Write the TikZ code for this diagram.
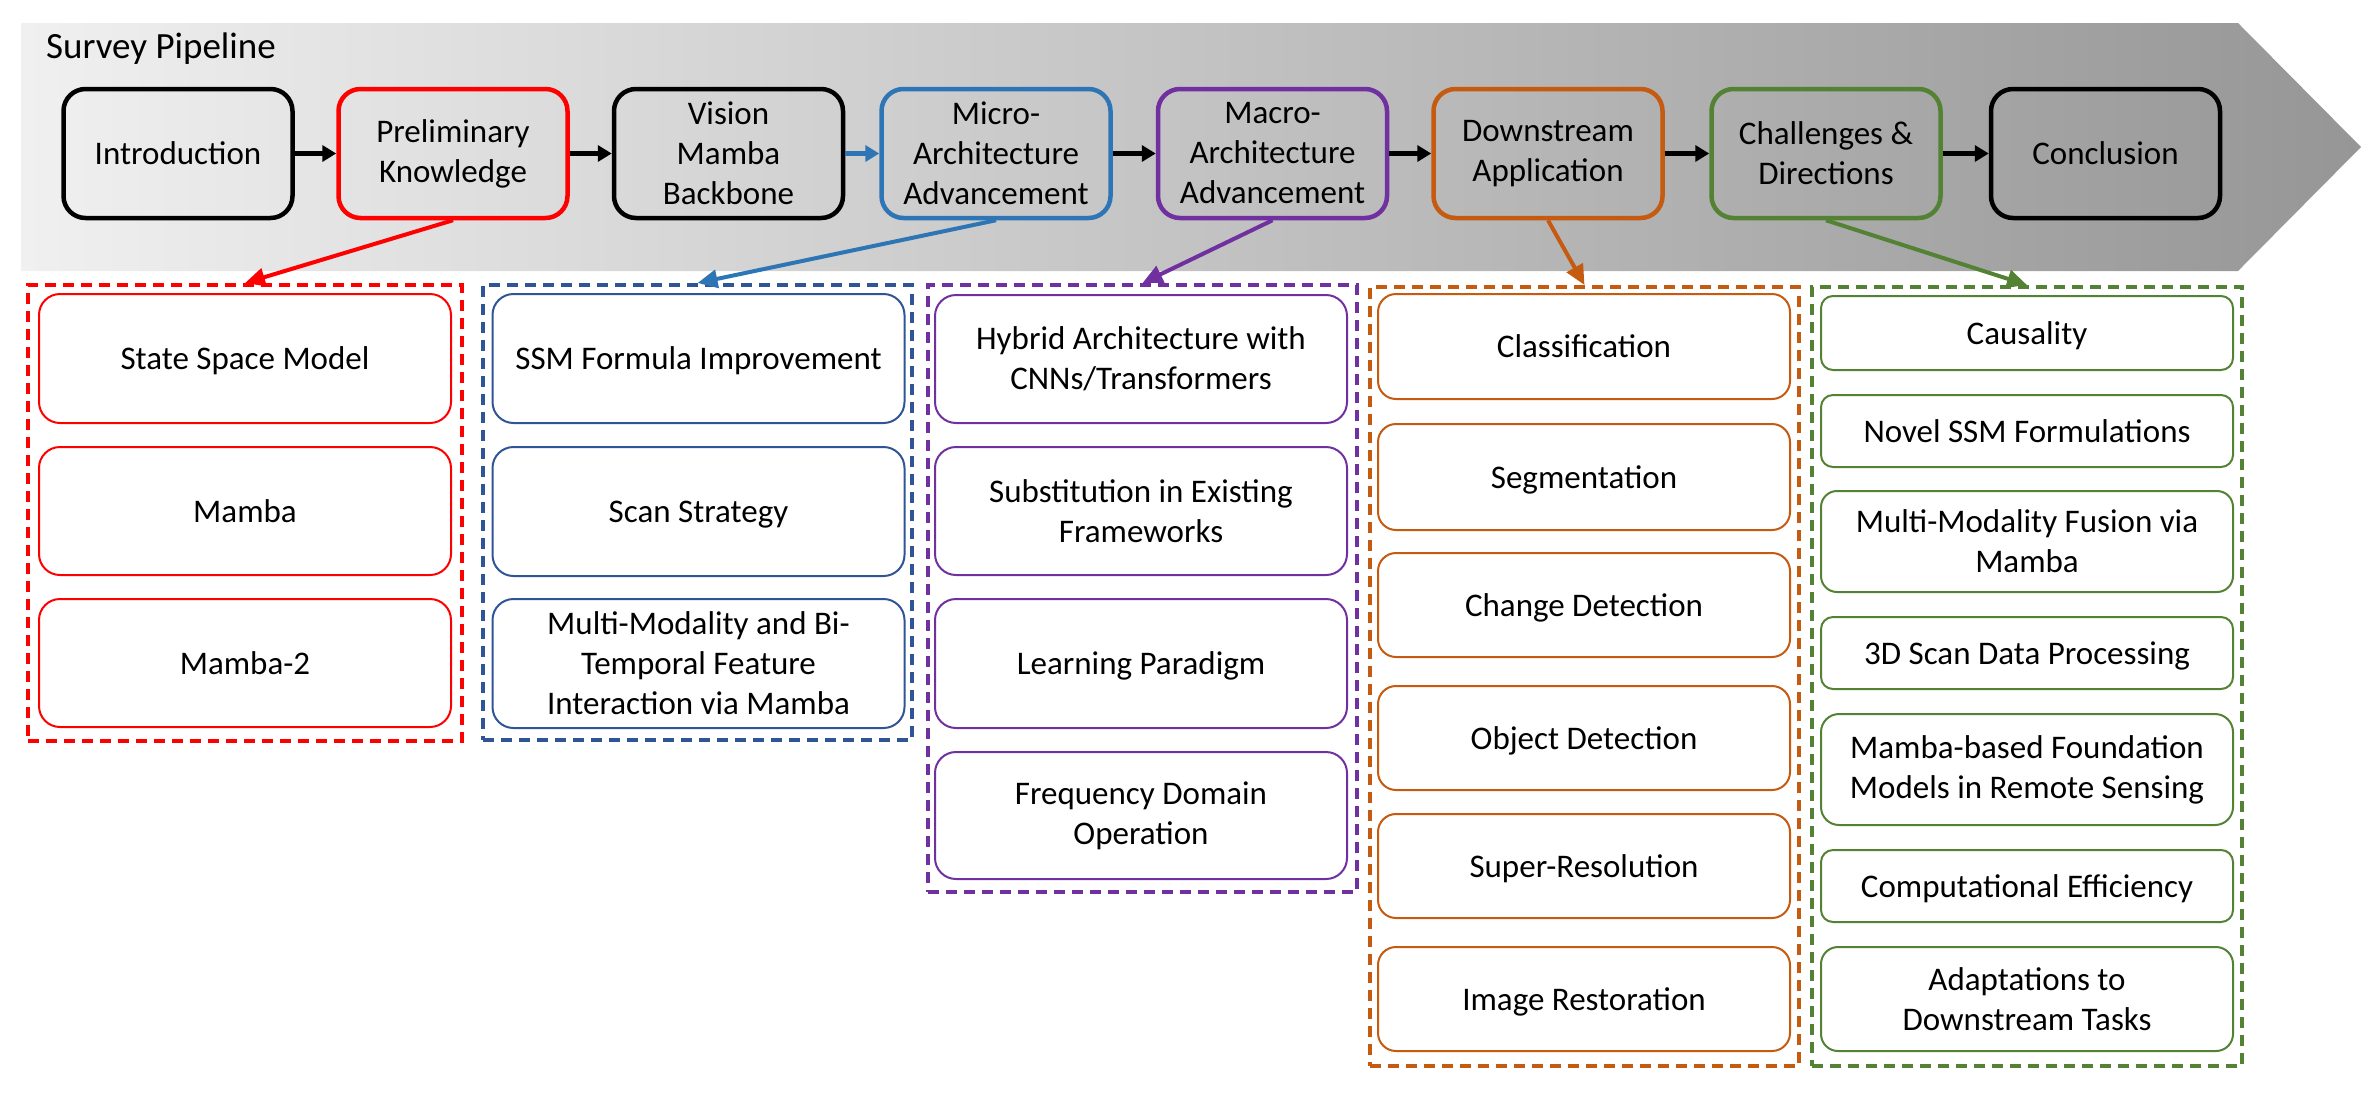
\documentclass[tikz,border=0pt]{standalone}
\usepackage{fontspec}
\setmainfont{Carlito}
\usepackage{tikz}
\usetikzlibrary{arrows.meta, shapes, positioning, backgrounds, fit, calc}
\definecolor{PipeRed}{RGB}{255,0,0}
\definecolor{PipeBlue}{RGB}{46,117,182}
\definecolor{PipeNavy}{RGB}{47,85,151}
\definecolor{PipePurple}{RGB}{112,48,160}
\definecolor{PipeOrange}{RGB}{197,90,17}
\definecolor{PipeGreen}{RGB}{84,130,53}
\definecolor{PipeLight}{RGB}{240,240,240}
\definecolor{PipeDark}{RGB}{150,150,150}

\tikzset{
  stage/.style={shape=rectangle, draw=black, rounded corners=22pt, line width=4.5pt,
                minimum width=229pt, minimum height=129pt, align=center, inner sep=0pt},
  topic/.style={shape=rectangle, draw=#1, rounded corners=21pt, line width=2pt,
                minimum width=412pt, align=center, inner sep=0pt},
  single/.style={text height=22pt, text depth=0pt},
  group/.style={shape=rectangle, draw=#1, line width=4pt, dash pattern=on 11pt off 7pt, inner sep=0pt},
  flow/.style={line width=5pt, -{Triangle[length=14pt, width=16pt]}},
  branch/.style={line width=4pt, -{Triangle[length=20pt, width=18pt]}},
}

\begin{document}
\begin{tikzpicture}[x=1pt, y=-1pt, font=\fontsize{33}{40}\selectfont]
    \useasboundingbox (0,0) rectangle (2379,1104);

    % pipeline band
    \shade[left color=PipeLight, right color=PipeDark]
        (21,23) -- (2238,23) -- (2361,147) -- (2238,271) -- (21,271) -- cycle;
    \node[anchor=base west, inner sep=0pt, font=\fontsize{37}{44}\selectfont] (title) at (46,58) {Survey Pipeline};

    % stages
    \node[stage, single]          (intro)  at ( 178.0,153.5) {Introduction};
    \node[stage, draw=PipeRed]    (prelim) at ( 453.0,153.5) {Preliminary\\Knowledge};
    \node[stage]                  (vision) at ( 728.5,153.5) {Vision\\Mamba\\Backbone};
    \node[stage, draw=PipeBlue]   (micro)  at ( 996.0,153.5) {Micro-\\Architecture\\Advancement};
    \node[stage, draw=PipePurple] (macro)  at (1272.5,153.5) {Macro-\\Architecture\\Advancement};
    \node[stage, draw=PipeOrange] (down)   at (1548.0,153.5) {Downstream\\Application};
    \node[stage, draw=PipeGreen]  (chall)  at (1826.0,153.5) {Challenges \&\\Directions};
    \node[stage, single]          (concl)  at (2105.5,153.5) {Conclusion};

    \draw[flow]           (intro)  -- (prelim);
    \draw[flow]           (prelim) -- (vision);
    \draw[flow, PipeBlue] (vision) -- (micro);
    \draw[flow]           (micro)  -- (macro);
    \draw[flow]           (macro)  -- (down);
    \draw[flow]           (down)   -- (chall);
    \draw[flow]           (chall)  -- (concl);

    % groups
    \node[group=PipeRed,    fit={(28,285) (462,741)}]    (prelimgrp) {};
    \node[group=PipeNavy,   fit={(483,285) (912,740)}]   (microgrp)  {};
    \node[group=PipePurple, fit={(928,285) (1357,892)}]  (macrogrp)  {};
    \node[group=PipeOrange, fit={(1370,287) (1799,1066)}] (downgrp)  {};
    \node[group=PipeGreen,  fit={(1812,287) (2242,1066)}] (challgrp) {};

    \draw[branch, PipeRed]    (prelim.south) -- (prelimgrp.north);
    \draw[branch, PipeBlue]   (micro.south)  -- (microgrp.north);
    \draw[branch, PipePurple] (macro.south)  -- (macrogrp.north);
    \draw[branch, PipeOrange] (down.south)   -- (downgrp.north);
    \draw[branch, PipeGreen]  (chall.south)  -- (challgrp.north);

    % preliminary knowledge
    \node[topic=PipeRed, single, minimum height=129pt] (ssm)      at (245,358.5) {State Space Model};
    \node[topic=PipeRed, single, minimum height=128pt] (mamba)    at (245,511.0) {Mamba};
    \node[topic=PipeRed, single, minimum height=128pt] (mambatwo) at (245,663.0) {Mamba-2};

    % micro-architecture
    \node[topic=PipeNavy, single, minimum height=129pt] (formula) at (698.5,358.5) {SSM Formula Improvement};
    \node[topic=PipeNavy, single, minimum height=129pt] (scan)    at (698.5,511.5) {Scan Strategy};
    \node[topic=PipeNavy, minimum height=129pt] (fusion)  at (698.5,663.5) {Multi-Modality and Bi-\\Temporal Feature\\Interaction via Mamba};

    % macro-architecture
    \node[topic=PipePurple, minimum height=128pt] (hybrid) at (1141,359.0) {Hybrid Architecture with\\CNNs/Transformers};
    \node[topic=PipePurple, minimum height=128pt] (subst)  at (1141,511.0) {Substitution in Existing\\Frameworks};
    \node[topic=PipePurple, single, minimum height=129pt] (learn)  at (1141,663.5) {Learning Paradigm};
    \node[topic=PipePurple, minimum height=127pt] (freq)   at (1141,815.5) {Frequency Domain\\Operation};

    % downstream application
    \node[topic=PipeOrange, single, rounded corners=18pt, minimum height=105pt] (cls) at (1584,346.5) {Classification};
    \node[topic=PipeOrange, single, rounded corners=18pt, minimum height=106pt] (seg) at (1584,477.0) {Segmentation};
    \node[topic=PipeOrange, single, rounded corners=18pt, minimum height=104pt] (cd)  at (1584,605.0) {Change Detection};
    \node[topic=PipeOrange, single, rounded corners=18pt, minimum height=104pt] (od)  at (1584,738.0) {Object Detection};
    \node[topic=PipeOrange, single, rounded corners=18pt, minimum height=104pt] (sr)  at (1584,866.0) {Super-Resolution};
    \node[topic=PipeOrange, single, rounded corners=18pt, minimum height=104pt] (ir)  at (1584,999.0) {Image Restoration};

    % challenges and directions
    \node[topic=PipeGreen, single, rounded corners=12pt, minimum height=74pt]  (causal) at (2027,333.0) {Causality};
    \node[topic=PipeGreen, single, rounded corners=12pt, minimum height=72pt]  (novel)  at (2027,431.0) {Novel SSM Formulations};
    \node[topic=PipeGreen, rounded corners=16pt, minimum height=101pt] (mmf)    at (2027,541.5) {Multi-Modality Fusion via\\Mamba};
    \node[topic=PipeGreen, single, rounded corners=12pt, minimum height=72pt]  (scand)  at (2027,653.0) {3D Scan Data Processing};
    \node[topic=PipeGreen, rounded corners=18pt, minimum height=111pt] (found)  at (2027,769.5) {Mamba-based Foundation\\Models in Remote Sensing};
    \node[topic=PipeGreen, single, rounded corners=12pt, minimum height=72pt]  (eff)    at (2027,886.0) {Computational Efficiency};
    \node[topic=PipeGreen, rounded corners=17pt, minimum height=104pt] (adapt)  at (2027,999.0) {Adaptations to\\Downstream Tasks};
\end{tikzpicture}
\end{document}
